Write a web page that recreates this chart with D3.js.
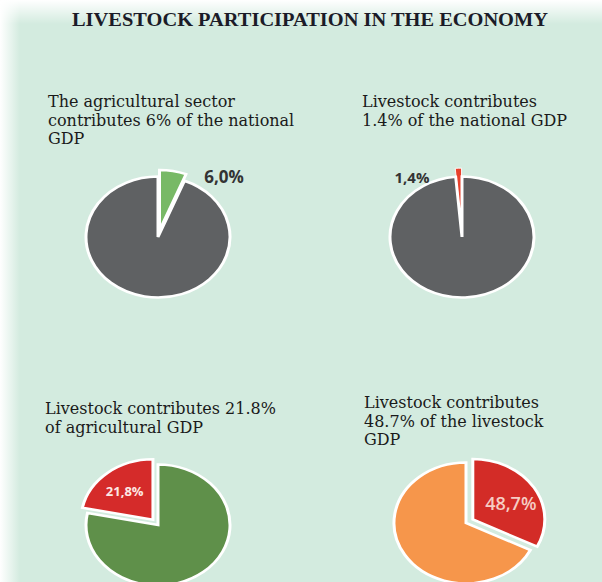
<!DOCTYPE html>
<html>
<head>
<meta charset="utf-8">
<script src="https://cdn.jsdelivr.net/npm/d3@7"></script>
<style>
  html, body { margin: 0; padding: 0; background: #fff; }
  svg { display: block; }
</style>
</head>
<body>
<svg id="chart" width="602" height="582"></svg>
<script>
// chart data
const chartTitle = "LIVESTOCK PARTICIPATION IN THE ECONOMY";
const captions = [
  ["The agricultural sector", "contributes 6% of the national", "GDP"],
  ["Livestock contributes", "1.4% of the national GDP"],
  ["Livestock contributes 21.8%", "of agricultural GDP"],
  ["Livestock contributes", "48.7% of the livestock", "GDP"]
];
const sliceLabels = ["6,0%", "1,4%", "21,8%", "48,7%"];
// share of the highlighted slice as drawn in the picture (percent)
const sliceShares = [6.0, 1.4, 21.8, 32.4];
const highlightColors = ["#78b966", "#e8412c", "#d52b2a", "#d32c27"];
const restColors = ["#5f6163", "#5f6163", "#5f904a", "#f6964b"];

const svg = d3.select("#chart");
const W = 602, H = 582;

// background with soft white fade on top and left
const defs = svg.append("defs");
const gTop = defs.append("linearGradient").attr("id", "fadeTop")
  .attr("x1", 0).attr("y1", 0).attr("x2", 0).attr("y2", 1);
gTop.append("stop").attr("offset", 0).attr("stop-color", "#fff").attr("stop-opacity", 1);
gTop.append("stop").attr("offset", 1).attr("stop-color", "#fff").attr("stop-opacity", 0);
const gLeft = defs.append("linearGradient").attr("id", "fadeLeft")
  .attr("x1", 0).attr("y1", 0).attr("x2", 1).attr("y2", 0);
gLeft.append("stop").attr("offset", 0).attr("stop-color", "#fff").attr("stop-opacity", 1);
gLeft.append("stop").attr("offset", 1).attr("stop-color", "#fff").attr("stop-opacity", 0);

svg.append("rect").attr("width", W).attr("height", H).attr("fill", "#d3ebdf");
svg.append("rect").attr("width", W).attr("height", 24).attr("fill", "url(#fadeTop)");
svg.append("rect").attr("width", 20).attr("height", H).attr("fill", "url(#fadeLeft)");

svg.append("text")
  .attr("x", 310).attr("y", 26)
  .attr("text-anchor", "middle")
  .attr("font-family", "Liberation Serif, Times New Roman, serif")
  .attr("font-weight", "bold")
  .attr("font-size", 18)
  .attr("fill", "#1b1b28")
  .attr("textLength", 476)
  .attr("lengthAdjust", "spacingAndGlyphs")
  .text(chartTitle);

// panel layout: caption origin, pie centre, label position
const panels = [
  { tx: 48, ty: 107, cx: 158, cy: 237, lx: 224, ly: 183, start: 0, inside: false },
  { tx: 362, ty: 107, cx: 462, cy: 237, lx: 412, ly: 183, start: -1, inside: false },
  { tx: 45, ty: 414, cx: 158, cy: 525, start: -1, inside: true },
  { tx: 364, ty: 408, cx: 466, cy: 523, start: 0, inside: true }
];

const R = 72, squash = 0.84;
const arc = d3.arc().innerRadius(0).outerRadius(R);

panels.forEach((p, i) => {
  const cap = svg.append("text")
    .attr("font-family", "DejaVu Serif, serif")
    .attr("font-size", 16)
    .attr("fill", "#1a1a1a");
  captions[i].forEach((line, j) => {
    cap.append("tspan").attr("x", p.tx).attr("y", p.ty + j * 18.5).text(line);
  });

  const share = sliceShares[i] / 100 * 2 * Math.PI;
  const hiStart = p.start < 0 ? -share : 0;
  const slices = [
    { startAngle: hiStart, endAngle: hiStart + share, color: highlightColors[i], hi: true },
    { startAngle: hiStart + share, endAngle: hiStart + 2 * Math.PI, color: restColors[i], hi: false }
  ];
  const explode = i === 1 ? 10 : 8;

  const g = svg.append("g")
    .attr("transform", `translate(${p.cx},${p.cy}) scale(1,${squash})`);

  g.selectAll("path").data(slices).join("path")
    .attr("d", arc)
    .attr("fill", d => d.color)
    .attr("stroke", "#fff")
    .attr("stroke-width", d => (d.hi && i === 1) ? 1 : 3)
    .attr("transform", d => {
      if (!d.hi) return null;
      const a = (d.startAngle + d.endAngle) / 2;
      return `translate(${Math.sin(a) * explode},${-Math.cos(a) * explode})`;
    });

  if (p.inside) {
    const a = (slices[0].startAngle + slices[0].endAngle) / 2;
    const rr = R * 0.62 + explode;
    const x = p.cx + Math.sin(a) * rr;
    const y = p.cy - Math.cos(a) * rr * squash + (i === 3 ? 3 : 0);
    svg.append("text")
      .attr("x", x).attr("y", y)
      .attr("text-anchor", "middle")
      .attr("dominant-baseline", "central")
      .attr("font-family", "Open Sans, Lato, sans-serif")
      .attr("font-weight", i === 2 ? "bold" : "600")
      .attr("font-size", i === 2 ? 13 : 18)
      .attr("fill", i === 2 ? "#fde8e4" : "#f6cdc4")
      .text(sliceLabels[i]);
  } else {
    svg.append("text")
      .attr("x", p.lx).attr("y", p.ly)
      .attr("text-anchor", "middle")
      .attr("font-family", "Open Sans, Lato, sans-serif")
      .attr("font-weight", "bold")
      .attr("font-size", i === 0 ? 17 : 15)
      .attr("fill", "#333")
      .text(sliceLabels[i]);
  }
});
</script>
</body>
</html>
